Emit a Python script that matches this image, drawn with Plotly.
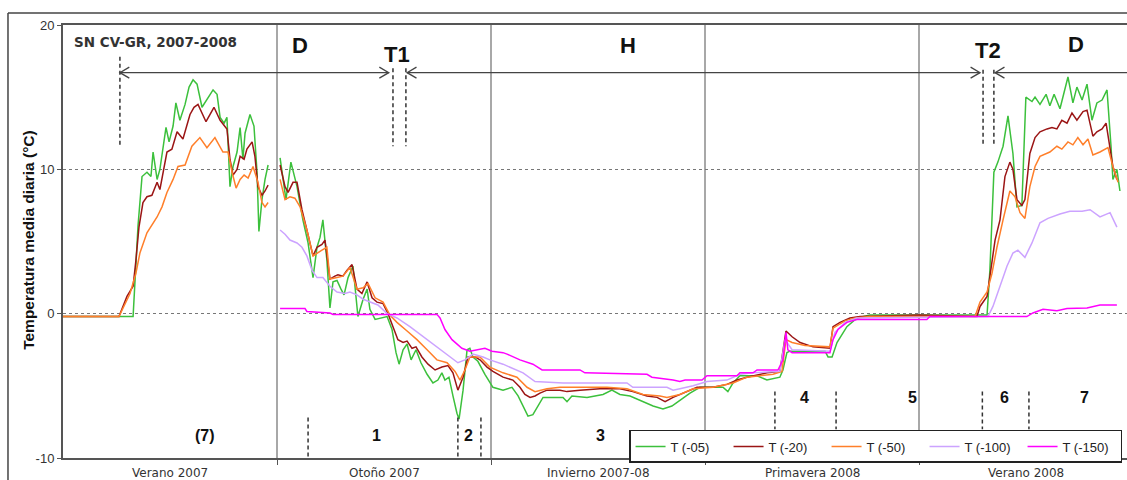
import plotly.graph_objects as go

# ---- season axis (days since start of summer 2007, 91-day seasons) ----
season_names = ["Verano 2007", "Otoño 2007", "Invierno 2007-08", "Primavera 2008", "Verano 2008"]
season_len = 91
x_end = 452.4

# ---- daily mean temperature (°C) at each depth ----
day_05 = [0, 29.8, 31.9, 33.6, 35.7, 37.4, 38.3, 40.0, 41.2, 43.8, 45.1, 46.8, 48.0, 49.7, 51.9, 53.6,
          55.3, 57.0, 59.1, 61.2, 63.8, 65.5, 66.8, 68.5, 69.7, 71.0, 72.3, 74.0, 75.3, 76.5, 77.4, 79.5,
          81.2, 82.5, 83.3, 84.6, 85.9, 87.2, 89.8,
          92.3, 94.8, 96.9, 99.5, 102.0, 104.2, 106.3, 108.0, 109.3, 110.5, 112.2, 113.5, 114.8, 116.5,
          118.2, 119.5, 121.2, 123.3, 125.4, 127.6, 129.3, 130.5, 132.7, 134.8, 137.8, 139.9, 141.6,
          142.9, 144.6, 146.3, 148.0, 150.1, 152.2, 154.8, 157.3, 159.4, 161.1, 162.4, 164.1, 165.8,
          167.5, 168.4, 170.1, 171.8, 173.0, 174.3, 176.4, 179.4, 182.8, 187.1, 190.9, 193.5, 195.6,
          197.7, 199.8, 202.0, 204.1, 208.3, 212.6, 214.3, 216.4, 222.8, 226.2, 229.6, 233.4, 236.8,
          241.1, 246.6, 250.9, 255.1, 258.9, 262.3, 266.6, 270.8, 276.4, 280.6, 282.7, 284.9, 287.8,
          295.1, 299.3, 304.8, 306.1, 307.8, 309.1, 324.0, 325.3, 327.0, 329.1, 333.3, 337.6, 343.1,
          392.9, 394.1, 395.8, 397.5, 399.7, 401.8, 403.9, 405.6, 407.7, 409.4, 412.0, 413.3, 415.4,
          418.0, 419.6, 421.4, 423.9, 425.6, 427.3, 429.4, 431.1, 433.3, 435.4, 437.5, 439.6, 441.8,
          443.9, 445.6, 446.4, 448.1, 449.4]
temp_05 = [-0.2, -0.2, 6.1, 9.5, 9.8, 9.5, 11.2, 9.3, 10.0, 12.9, 11.9, 13.0, 14.6, 13.4, 14.5, 15.7,
           16.2, 15.9, 14.3, 14.8, 15.5, 15.2, 13.6, 13.2, 13.6, 8.8, 10.2, 11.2, 12.9, 10.7, 12.5, 13.8,
           13.0, 9.8, 5.7, 7.9, 9.3, 10.3, None,
           10.8, 7.9, 10.5, 8.8, 6.5, 4.9, 2.5, 4.6, 5.3, 6.5, 3.7, 0.4, 2.2, 2.3,
           1.7, 1.3, 2.5, 3.3, -0.2, 1.0, 1.7, 0.3, -0.4, -0.3, -0.2, -1.1, -2.7,
           -3.5, -2.5, -2.1, -3.2, -2.5, -3.4, -4.2, -4.8, -4.6, -4.1, -4.6, -4.4, -5.7,
           -6.9, -7.3, -5.3, -2.5, -2.4, -3.0, -3.3, -4.2, -5.1, -5.3, -5.1, -5.7, -6.4,
           -7.1, -7.0, -6.4, -5.8, -5.8, -5.8, -6.1, -5.7, -5.8, -5.7, -5.6, -5.3, -5.6,
           -5.7, -6.1, -6.4, -6.6, -6.4, -6.0, -5.5, -5.1, -5.1, -5.1, -5.4, -4.8, -4.3,
           -4.3, -4.6, -4.4, -3.9, -2.7, -2.6, -2.6, -3.0, -3.0, -2.0, -0.9, -0.3, -0.1,
           -0.1, 3.0, 9.8, 10.5, 11.6, 13.7, 11.1, 7.4, 7.5, 15.0, 14.7, 15.0, 14.5,
           15.2, 14.4, 15.2, 14.2, 15.3, 16.4, 14.6, 15.7, 14.8, 15.9, 13.4, 14.6, 14.8,
           15.5, 11.6, 9.3, 10.0, 8.5]

day_20 = [0, 23.8, 27.2, 29.8, 31.0, 32.3, 34.0, 35.7, 37.8, 40.0, 41.2, 44.2, 46.3, 48.5, 51.0, 54.0,
          55.7, 57.4, 60.8, 64.2, 66.8, 69.7, 71.0, 72.3, 74.0, 75.3, 77.0, 78.2, 80.4, 81.6, 82.9, 84.6,
          85.9, 87.2, 89.8,
          92.3, 94.4, 95.7, 97.8, 99.5, 101.6, 103.7, 106.3, 108.0, 110.1, 111.4, 113.5, 115.6, 116.9,
          119.0, 120.7, 122.9, 125.0, 127.1, 129.3, 131.4, 133.5, 136.1, 138.2, 140.3, 142.4, 144.6,
          146.3, 148.4, 150.1, 152.6, 155.2, 158.2, 161.1, 163.7, 165.8, 167.9, 170.1, 172.2, 175.2,
          177.3, 180.3, 182.8, 187.1, 191.3, 194.3, 196.4, 198.6, 200.7, 202.8, 205.8, 211.3, 214.3,
          219.8, 228.3, 236.8, 242.3, 248.3, 252.6, 256.0, 259.4, 263.6, 269.6, 276.4, 282.3, 286.6,
          290.8, 299.3, 304.8, 307.4, 310.0, 313.4, 318.9, 326.1, 327.4, 330.4, 334.6, 338.9, 364.0,
          388.6, 389.9, 392.9, 394.6, 396.3, 398.4, 400.5, 402.6, 403.9, 405.6, 407.7, 409.0, 411.1,
          413.3, 415.4, 418.4, 420.5, 422.6, 424.7, 426.9, 429.0, 431.1, 433.7, 435.4, 437.9, 439.6,
          441.8, 443.5, 445.2, 446.4, 448.1]
temp_20 = [-0.2, -0.2, 1.2, 1.9, 3.7, 6.0, 7.7, 8.1, 8.2, 9.1, 8.6, 11.2, 11.4, 12.6, 12.1, 13.8,
           14.3, 14.5, 13.3, 14.3, 13.4, 12.8, 10.7, 9.6, 10.0, 10.9, 10.7, 11.4, 11.9, 10.9, 8.8, 8.2,
           8.5, 8.9, None,
           10.3, 8.8, 8.4, 9.1, 9.1, 7.2, 5.8, 4.0, 4.6, 4.8, 5.1, 2.4, 2.6, 2.7,
           2.6, 3.0, 3.4, 1.7, 1.4, 2.2, 1.1, 0.8, 0.7, 0.0, -0.9, -1.8, -2.0,
           -1.9, -2.4, -2.3, -3.0, -3.5, -3.9, -3.7, -3.6, -4.1, -5.3, -4.4, -3.0, -3.0,
           -3.2, -3.7, -4.0, -4.4, -4.6, -5.1, -5.6, -5.8, -5.7, -5.5, -5.3, -5.3, -5.4,
           -5.3, -5.2, -5.2, -5.4, -5.7, -5.8, -6.1, -5.8, -5.5, -5.1, -5.1, -4.9, -4.6,
           -4.4, -4.1, -4.0, -1.2, -1.6, -2.0, -2.3, -2.4, -0.9, -0.6, -0.3, -0.2, -0.1,
           -0.2, 0.5, 1.2, 3.3, 5.1, 6.5, 9.5, 10.5, 10.0, 7.9, 7.5, 7.9, 11.1,
           12.2, 12.6, 12.8, 12.9, 12.8, 13.4, 13.2, 13.9, 13.4, 14.0, 14.1, 12.3, 12.6,
           12.8, 13.2, 11.6, 10.2, 9.3]

day_50 = [0, 23.8, 28.5, 31.0, 32.7, 35.7, 40.0, 42.1, 44.2, 46.8, 48.9, 51.9, 54.8, 58.2, 61.2, 64.6,
          68.0, 70.2, 71.9, 73.6, 75.3, 77.0, 78.7, 80.8, 82.9, 84.6, 85.9, 87.2, 89.8,
          92.3, 94.4, 96.5, 98.6, 100.8, 103.7, 106.3, 108.0, 110.1, 112.2, 113.5, 116.5, 119.0, 122.0,
          125.0, 127.6, 129.7, 132.7, 136.1, 139.0, 142.0, 146.3, 150.5, 154.8, 159.0, 163.3, 166.7,
          168.8, 170.9, 173.0, 177.3, 181.5, 187.1, 193.0, 197.3, 200.7, 205.8, 211.3, 231.3, 239.8,
          246.6, 253.8, 256.8, 262.3, 267.9, 276.4, 284.9, 290.8, 301.9, 305.7, 307.4, 310.0, 315.5,
          326.1, 327.4, 332.5, 336.7, 343.1, 387.8, 389.9, 392.9, 395.0, 397.1, 399.7, 402.6, 404.8,
          406.9, 409.0, 411.1, 413.3, 415.4, 419.6, 422.6, 424.7, 427.3, 429.4, 431.5, 433.7, 435.8,
          437.9, 440.9, 444.3, 446.4, 448.6]
temp_50 = [-0.2, -0.2, 1.4, 2.8, 4.2, 5.6, 6.7, 7.4, 8.4, 9.3, 10.2, 10.3, 11.6, 12.2, 11.5, 12.2,
           11.2, 11.2, 9.8, 8.7, 9.3, 9.6, 9.4, 10.2, 9.1, 7.7, 7.4, 7.7, None,
           9.3, 7.9, 8.1, 8.0, 7.4, 5.8, 4.0, 4.2, 4.4, 4.6, 2.4, 2.5, 2.6, 3.2,
           1.7, 1.8, 2.1, 1.1, 0.8, -0.1, -0.6, -1.2, -1.8, -2.5, -3.2, -3.4, -4.0,
           -4.6, -3.9, -3.0, -3.0, -3.7, -4.1, -4.4, -5.1, -5.4, -5.2, -5.1, -5.1, -5.2,
           -5.6, -5.7, -5.8, -5.6, -5.2, -5.1, -4.8, -4.4, -4.2, -4.0, -1.8, -2.0, -2.2,
           -2.3, -1.0, -0.5, -0.3, -0.2, -0.2, 0.8, 1.5, 2.8, 4.6, 6.5, 8.5, 8.1,
           7.0, 6.6, 8.8, 10.2, 10.9, 11.2, 11.6, 11.4, 11.9, 11.7, 12.2, 11.7, 12.1,
           11.0, 11.2, 11.5, 10.2, 9.1]

day_100 = [92.3, 94.4, 96.5, 99.5, 101.6, 103.7, 105.9, 108.0, 110.5, 113.5, 116.5, 119.9, 122.0,
           125.0, 127.6, 130.5, 133.9, 137.8, 142.0, 147.5, 153.1, 159.0, 164.5, 167.9, 170.9, 174.3,
           178.6, 181.5, 187.1, 191.3, 195.6, 200.7, 212.6, 239.8, 242.3, 256.8, 259.4, 262.3, 267.9,
           273.8, 282.3, 287.8, 293.4, 304.8, 307.0, 310.0, 326.1, 328.2, 332.5, 337.6, 393.3, 395.4,
           398.4, 401.4, 403.9, 406.0, 409.0, 412.0, 415.4, 418.8, 423.9, 428.1, 433.3, 436.7, 440.9,
           445.2, 448.1]
temp_100 = [5.8, 5.5, 5.1, 4.9, 4.6, 4.0, 3.0, 2.5, 2.5, 1.9, 1.5, 1.4, 1.5,
            1.3, 1.0, 0.8, 0.6, 0.0, -0.3, -0.9, -1.6, -2.3, -3.0, -3.4, -3.2, -2.8,
            -3.0, -3.2, -3.5, -3.8, -4.1, -4.7, -4.8, -4.8, -5.1, -5.1, -5.3, -5.2, -5.0,
            -4.7, -4.6, -4.2, -4.1, -4.0, -1.8, -2.5, -2.6, -1.3, -0.6, -0.3, -0.2, 0.5,
            1.9, 3.3, 4.2, 4.4, 3.9, 4.9, 6.3, 6.6, 6.9, 7.1, 7.1, 7.2, 6.7,
            7.0, 6.0]

day_150 = [92.3, 102.9, 103.7, 113.5, 114.8, 159.0, 160.3, 162.4, 165.4, 169.6, 173.0, 177.3, 179.4,
           182.4, 187.1, 188.8, 194.3, 199.8, 203.7, 219.8, 221.9, 248.3, 250.4, 259.4, 262.3, 264.5,
           271.7, 273.8, 286.6, 287.8, 293.4, 295.1, 304.0, 306.1, 307.4, 308.2, 310.0, 326.1, 327.4,
           329.5, 333.3, 337.6, 367.3, 368.6, 409.8, 412.4, 416.7, 422.6, 426.9, 435.4, 440.9, 448.1]
temp_150 = [0.35, 0.35, 0.15, 0.05, -0.05, -0.05, -0.3, -1.1, -1.8, -2.4, -2.6, -2.5, -2.4,
            -2.6, -2.7, -2.8, -3.2, -3.5, -3.9, -3.9, -4.1, -4.2, -4.4, -4.6, -4.7, -4.6,
            -4.6, -4.3, -4.3, -4.1, -4.1, -3.9, -3.9, -3.2, -1.3, -2.5, -2.7, -2.7, -1.8,
            -1.1, -0.6, -0.4, -0.4, -0.2, -0.2, 0.05, 0.3, 0.2, 0.35, 0.4, 0.6, 0.6]

series_names = ["T (-05)", "T (-20)", "T (-50)", "T (-100)", "T (-150)"]
series_days = [day_05, day_20, day_50, day_100, day_150]
series_temps = [temp_05, temp_20, temp_50, temp_100, temp_150]
series_colors = ["#3cc03c", "#9b1515", "#ff7f2a", "#cca3ff", "#ff00ff"]

# ---- phase annotations (D = desnivado, T = transition, H = snow cover) ----
phase_text = ["D", "T1", "H", "T2", "D"]
phase_day = [100.8, 142.0, 240.2, 393.3, 430.7]
phase_temp = [18.6, 17.95, 18.6, 18.2, 18.65]
arrow_start = [24.2, 146.3, 396.3]
arrow_end = [138.5, 389.9, x_end]
arrow_end_head = [True, True, False]
arrow_temp = 16.7
top_marks = [24.2, 140.3, 145.8, 391.2, 395.8]
top_mark_top = [17.8, 17.0, 17.0, 16.9, 16.9]
top_mark_bottom = 11.6

# ---- thermal stages along the record ----
stage_text = ["(7)", "1", "2", "3", "4", "5", "6", "7"]
stage_day = [60.4, 133.5, 172.2, 228.7, 315.1, 361.0, 400.5, 434.5]
stage_temp = [-8.45, -8.45, -8.45, -8.45, -5.8, -5.8, -5.8, -5.8]
stage_marks_low = [104.2, 167.9, 177.7]
stage_marks_high = [302.7, 328.7, 390.9, 410.7]

fig = go.Figure()
for name, xs, ys, col in zip(series_names, series_days, series_temps, series_colors):
    fig.add_trace(go.Scatter(x=xs, y=ys, mode="lines", name=name,
                             line=dict(color=col, width=1.5)))

shapes = []
dark = "#333333"
# dashed phase boundaries at the top
for d, top in zip(top_marks, top_mark_top):
    shapes.append(dict(type="line", xref="x", yref="y", x0=d, x1=d, y0=top, y1=top_mark_bottom,
                       line=dict(color=dark, width=1.5, dash="4px,3px")))
# dashed stage boundaries at the bottom
for d in stage_marks_low:
    shapes.append(dict(type="line", xref="x", yref="y", x0=d, x1=d, y0=-7.2, y1=-10,
                       line=dict(color=dark, width=1.5, dash="4px,3px")))
for d in stage_marks_high:
    shapes.append(dict(type="line", xref="x", yref="y", x0=d, x1=d, y0=-5.4, y1=-8.0,
                       line=dict(color=dark, width=1.5, dash="4px,3px")))

# phase arrows with open chevron heads
arm_dx, arm_dy = 4.0, 0.38
for x0, x1, head in zip(arrow_start, arrow_end, arrow_end_head):
    shapes.append(dict(type="line", xref="x", yref="y", x0=x0, x1=x1, y0=arrow_temp, y1=arrow_temp,
                       line=dict(color="#444444", width=1.3)))
    shapes.append(dict(type="path", xref="x", yref="y",
                       path=f"M {x0 + arm_dx},{arrow_temp + arm_dy} L {x0},{arrow_temp} "
                            f"L {x0 + arm_dx},{arrow_temp - arm_dy}",
                       line=dict(color="#444444", width=1.3)))
    if head:
        shapes.append(dict(type="path", xref="x", yref="y",
                           path=f"M {x1 - arm_dx},{arrow_temp + arm_dy} L {x1},{arrow_temp} "
                                f"L {x1 - arm_dx},{arrow_temp - arm_dy}",
                           line=dict(color="#444444", width=1.3)))

# outer frame of the figure
shapes.append(dict(type="line", xref="paper", yref="paper", x0=-0.0517, x1=1.05, y0=1.0277, y1=1.0277,
                   line=dict(color="#444444", width=1.5)))
shapes.append(dict(type="line", xref="paper", yref="paper", x0=-0.0517, x1=-0.0517, y0=1.0277, y1=-0.1,
                   line=dict(color="#444444", width=1.5)))

annotations = []
for t, d, v in zip(phase_text, phase_day, phase_temp):
    annotations.append(dict(x=d, y=v, xref="x", yref="y", text=t, showarrow=False,
                            font=dict(family="Liberation Sans", size=22, color="#111111", weight="bold")))
for t, d, v in zip(stage_text, stage_day, stage_temp):
    annotations.append(dict(x=d, y=v, xref="x", yref="y", text=t, showarrow=False,
                            font=dict(family="Liberation Sans", size=16, color="#111111", weight="bold")))
for i, s in enumerate(season_names):
    annotations.append(dict(x=season_len * (i + 0.5), y=-0.034, xref="x", yref="paper", text=s,
                            showarrow=False, yanchor="middle",
                            font=dict(family="DejaVu Sans", size=12, color="#333333")))
annotations.append(dict(x=0.0085, y=0.96, xref="paper", yref="paper", text="SN CV-GR, 2007-2008",
                        showarrow=False, xanchor="left", yanchor="middle",
                        font=dict(family="DejaVu Sans", size=13.5, color="#333333", weight="bold")))
annotations.append(dict(x=-0.0423, y=0.505, xref="paper", yref="paper",
                        text="Temperatura media diaria (°C)", textangle=-90, showarrow=False,
                        font=dict(family="Liberation Sans", size=15.5, color="#111111", weight="bold")))

fig.update_layout(
    width=1127, height=480,
    margin=dict(l=63, r=0, t=25, b=22),
    paper_bgcolor="white", plot_bgcolor="white",
    shapes=shapes, annotations=annotations,
    showlegend=True,
    legend=dict(orientation="h", x=0.532, y=0.0647, xanchor="left", yanchor="top",
                bgcolor="white", bordercolor="#222222", borderwidth=1.5,
                font=dict(family="Liberation Sans", size=13, color="#222222"),
                entrywidth=53, entrywidthmode="pixels", itemwidth=30,
                tracegroupgap=0),
    xaxis=dict(range=[0, x_end], tickvals=[season_len * k for k in range(1, 5)],
               showticklabels=False, ticks="outside", ticklen=5, tickcolor="#555555",
               showgrid=True, gridcolor="#a8a8a8", gridwidth=1.5,
               showline=True, linecolor="#555555", linewidth=2, mirror=True, zeroline=False),
    yaxis=dict(range=[-10, 20], tickvals=[-10, 0, 10, 20], ticktext=["-10", "0", "10", "20"],
               ticks="outside", ticklen=4, tickcolor="#555555",
               tickfont=dict(family="Liberation Sans", size=13, color="#333333"),
               showgrid=True, gridcolor="#777777", gridwidth=1, griddash="3px,3px",
               showline=True, linecolor="#555555", linewidth=2, zeroline=False),
)

fig.write_html("out.html")
